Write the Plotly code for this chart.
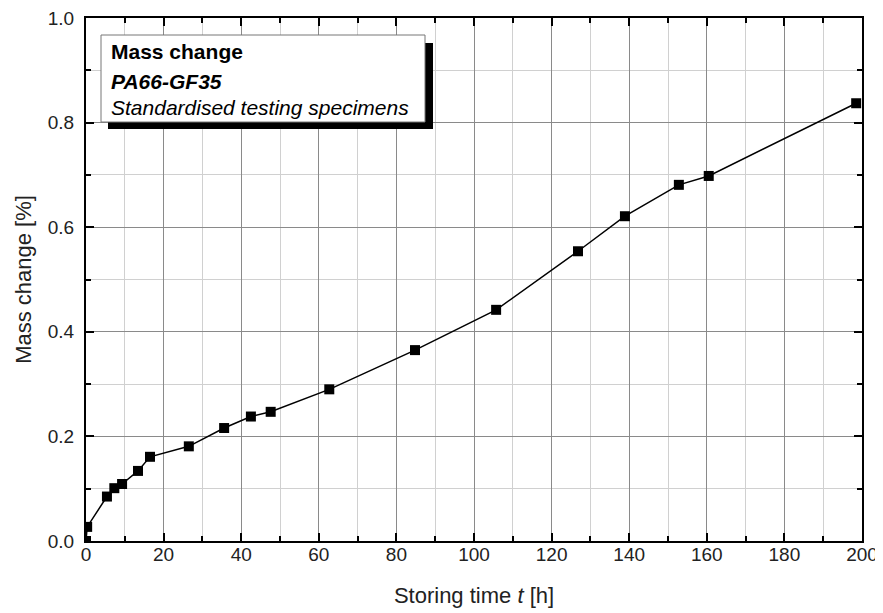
import plotly.graph_objects as go

storing_time_h = [0.0, 0.3, 5.4, 7.3, 9.3, 13.4, 16.5, 26.5, 35.6, 42.5, 47.6, 62.7, 84.8, 105.7, 126.8, 138.9, 152.8, 160.5, 198.5]
mass_change_pct = [0.0, 0.027, 0.085, 0.101, 0.109, 0.134, 0.161, 0.181, 0.216, 0.238, 0.247, 0.290, 0.365, 0.442, 0.554, 0.621, 0.681, 0.698, 0.837]

x_ticks = [0, 20, 40, 60, 80, 100, 120, 140, 160, 180, 200]
y_ticks = [0.0, 0.2, 0.4, 0.6, 0.8, 1.0]
y_tick_labels = ["0.0", "0.2", "0.4", "0.6", "0.8", "1.0"]

legend_lines = ["<b>Mass change</b>", "<b><i>PA66-GF35</i></b>", "<i>Standardised testing specimens</i>"]

# page is 883x613; the browser's default body margin shifts the figure by 8 px
OFF = 8
W, H = 883 - OFF, 613 - OFF
# desired plot area in page pixels: left 86, right 862, top 18, bottom 541
L, T = 86 - OFF, 18 - OFF
R = W - (862 - OFF)
B = H - (541 - OFF)
pw, ph = W - L - R, H - T - B

def px(x):  # page pixel -> paper
    return (x - OFF - L) / pw

def py(y):
    return (H - B - (y - OFF)) / ph

FONT = "Liberation Sans, Arial, sans-serif"

fig = go.Figure()
fig.add_trace(go.Scatter(
    x=storing_time_h, y=mass_change_pct, mode="lines+markers",
    line=dict(color="black", width=1.5),
    marker=dict(symbol="square", size=10, color="black"),
    showlegend=False,
))

axis_common = dict(
    showline=True, linecolor="black", linewidth=2, mirror="ticks",
    ticks="inside", ticklen=8, tickwidth=1.5, tickcolor="black",
    showgrid=True, gridcolor="#8a8a8a", gridwidth=1,
    zeroline=False, automargin=False, ticklabeloverflow="allow",
    tickfont=dict(family=FONT, size=19, color="#222"),
)

fig.update_xaxes(
    range=[0, 200], tickvals=x_ticks,
    minor=dict(dtick=10, showgrid=True, gridcolor="#d0d0d0", ticks="inside", ticklen=5, tickcolor="black"),
    title=dict(text="Storing time <i>t</i> [h]", font=dict(family=FONT, size=22, color="#222"), standoff=24),
    ticklabelstandoff=-5,
    **axis_common,
)
fig.update_yaxes(
    range=[0, 1.0], tickvals=y_ticks, ticktext=y_tick_labels,
    minor=dict(dtick=0.1, showgrid=True, gridcolor="#d0d0d0", ticks="inside", ticklen=5, tickcolor="black"),
    title=dict(text="Mass change [%]", font=dict(family=FONT, size=22, color="#222"), standoff=10),
    ticklabelstandoff=6,
    **axis_common,
)

# legend-like text box with drop shadow
fig.add_shape(type="rect", xref="paper", yref="paper",
              x0=px(108), x1=px(433), y0=py(129), y1=py(43),
              fillcolor="black", line=dict(width=0), layer="above")
fig.add_shape(type="rect", xref="paper", yref="paper",
              x0=px(101), x1=px(425), y0=py(122), y1=py(35),
              fillcolor="white", line=dict(color="#777", width=1), layer="above")

for text, ycen in zip(legend_lines, [52, 81, 107]):
    fig.add_annotation(text=text, xref="paper", yref="paper", x=px(109), y=py(ycen),
                       xanchor="left", yanchor="middle", showarrow=False,
                       font=dict(family=FONT, size=21, color="black"))

fig.update_layout(
    width=W, height=H,
    margin=dict(l=L, r=R, t=T, b=B),
    plot_bgcolor="white", paper_bgcolor="white",
)

fig.write_html("out.html")
